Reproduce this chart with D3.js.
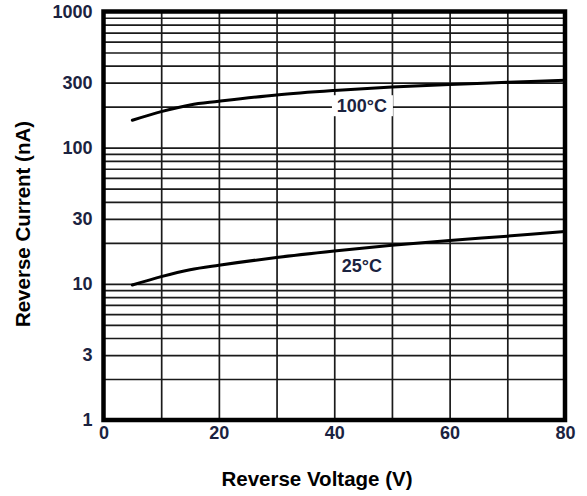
<!DOCTYPE html>
<html>
<head>
<meta charset="utf-8">
<script src="https://cdn.jsdelivr.net/npm/d3@7"></script>
<style>
  html, body { margin: 0; padding: 0; background: #fff; }
  svg { display: block; }
</style>
</head>
<body>
<svg id="chart" width="587" height="496"></svg>
<script>
// ---- data ----
const voltage = [5, 10, 15, 20, 30, 40, 50, 60, 70, 80];
const current100C = [159, 184, 206, 219, 244, 263, 279, 291, 302, 313];
const current25C = [9.8, 11.3, 12.7, 13.7, 15.6, 17.4, 19.2, 20.8, 22.4, 24.2];
const seriesLabels = ["100°C", "25°C"];
const yTickLabels = [1, 3, 10, 30, 100, 300, 1000];
const xTickLabels = [0, 20, 40, 60, 80];
const xTitle = "Reverse Voltage (V)";
const yTitle = "Reverse Current (nA)";

// ---- layout ----
const svg = d3.select("#chart");
const pL = 103.5, pR = 565, pT = 11.5, pB = 420;
const x = d3.scaleLinear().domain([0, 80]).range([pL, pR]);
const y = d3.scaleLog().domain([1, 1000]).range([pB, pT]);

const labelFont = "'Liberation Sans', Arial, sans-serif";
const tickColor = "#1b2340";

// grid: horizontal (log minor lines)
const gy = svg.append("g")
  .attr("transform", `translate(${pL},0)`)
  .call(d3.axisLeft(y).tickValues(y.ticks()).tickSize(-(pR - pL)).tickFormat(""));
gy.select(".domain").remove();
gy.selectAll("line").attr("stroke", "#1a1a1a").attr("stroke-width", 1.7);

// grid: vertical every 10 V
const gx = svg.append("g")
  .attr("transform", `translate(0,${pB})`)
  .call(d3.axisBottom(x).tickValues(x.ticks(8)).tickSize(-(pB - pT)).tickFormat(""));
gx.select(".domain").remove();
gx.selectAll("line").attr("stroke", "#1a1a1a").attr("stroke-width", 1.7);

// white box behind 100°C label (breaks the grid)
const lbl100 = { v: 44.8, val: 205 };
svg.append("rect")
  .attr("x", x(lbl100.v) - 30).attr("y", y(lbl100.val) - 10)
  .attr("width", 61).attr("height", 21)
  .attr("fill", "#fff");

// curves
const line = d3.line()
  .x(d => x(d[0]))
  .y(d => y(d[1]))
  .curve(d3.curveCatmullRom.alpha(0.5));

[current100C, current25C].forEach(vals => {
  svg.append("path")
    .datum(voltage.map((v, i) => [v, vals[i]]))
    .attr("d", line)
    .attr("fill", "none")
    .attr("stroke", "#000")
    .attr("stroke-width", 3)
    .attr("stroke-linecap", "round");
});

// series labels
svg.append("text")
  .attr("x", x(lbl100.v)).attr("y", y(lbl100.val) + 1)
  .attr("text-anchor", "middle").attr("dominant-baseline", "central")
  .attr("font-family", labelFont).attr("font-weight", "bold").attr("font-size", 18)
  .attr("fill", tickColor)
  .text(seriesLabels[0]);
svg.append("text")
  .attr("x", x(44.8)).attr("y", y(13.9) + 2)
  .attr("text-anchor", "middle").attr("dominant-baseline", "central")
  .attr("font-family", labelFont).attr("font-weight", "bold").attr("font-size", 18)
  .attr("fill", tickColor)
  .text(seriesLabels[1]);

// frame
svg.append("rect")
  .attr("x", pL).attr("y", pT)
  .attr("width", pR - pL).attr("height", pB - pT)
  .attr("fill", "none").attr("stroke", "#000").attr("stroke-width", 4.5);

// tick labels (y)
const ay = svg.append("g")
  .attr("transform", `translate(${pL},0)`)
  .call(d3.axisLeft(y).tickValues(yTickLabels).tickSize(0).tickPadding(11).tickFormat(d3.format("d")));
ay.select(".domain").remove();
ay.selectAll("text")
  .attr("font-family", labelFont).attr("font-weight", "bold").attr("font-size", 18)
  .attr("fill", tickColor);

// tick labels (x)
const ax = svg.append("g")
  .attr("transform", `translate(0,${pB})`)
  .call(d3.axisBottom(x).tickValues(xTickLabels).tickSize(0).tickPadding(6).tickFormat(d3.format("d")));
ax.select(".domain").remove();
ax.selectAll("text")
  .attr("font-family", labelFont).attr("font-weight", "bold").attr("font-size", 18)
  .attr("fill", tickColor);

// axis titles
svg.append("text")
  .attr("x", 317).attr("y", 486)
  .attr("text-anchor", "middle")
  .attr("font-family", labelFont).attr("font-weight", "bold").attr("font-size", 20.5)
  .attr("fill", "#000")
  .text(xTitle);
svg.append("text")
  .attr("transform", `translate(30,224) rotate(-90)`)
  .attr("text-anchor", "middle")
  .attr("font-family", labelFont).attr("font-weight", "bold").attr("font-size", 20.5)
  .attr("fill", "#000")
  .text(yTitle);
</script>
</body>
</html>
